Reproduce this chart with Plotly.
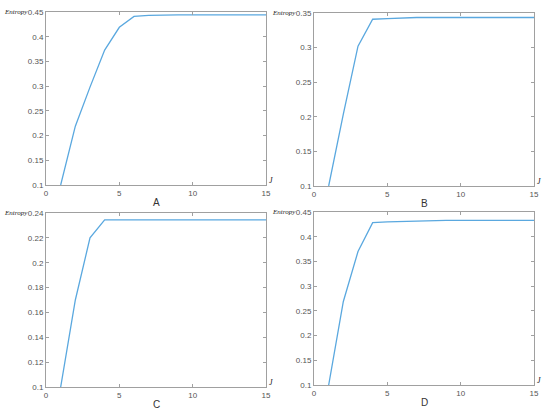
import plotly.graph_objects as go

J = list(range(1, 16))
entropy_A = [0.100, 0.219, 0.298, 0.373, 0.419, 0.441, 0.443, 0.444, 0.444, 0.444, 0.444, 0.444, 0.444, 0.444, 0.444]
entropy_B = [0.100, 0.204, 0.302, 0.341, 0.342, 0.343, 0.3435, 0.3435, 0.3435, 0.3435, 0.3435, 0.3435, 0.3435, 0.3435, 0.3435]
entropy_C = [0.100, 0.170, 0.220, 0.2344, 0.2345, 0.2345, 0.2345, 0.2345, 0.2345, 0.2345, 0.2345, 0.2345, 0.2345, 0.2345, 0.2345]
entropy_D = [0.100, 0.269, 0.370, 0.4285, 0.430, 0.431, 0.432, 0.433, 0.433, 0.433, 0.433, 0.433, 0.433, 0.433, 0.433]

panels = [
    ("A", entropy_A, [0.1, 0.45], 0.05),
    ("B", entropy_B, [0.1, 0.35], 0.05),
    ("C", entropy_C, [0.1, 0.24], 0.02),
    ("D", entropy_D, [0.1, 0.45], 0.05),
]

W, H = 550, 413
# pixel boxes: (left, right, top, bottom)
boxes = [
    (46, 266, 12, 185),
    (314, 534, 13, 186),
    (46, 266, 213, 387),
    (314, 534, 212, 385),
]

fig = go.Figure()
layout = dict(
    template="none",
    width=W, height=H, margin=dict(l=0, r=0, t=0, b=0, autoexpand=False),
    paper_bgcolor="white", plot_bgcolor="white", showlegend=False,
)
annotations = []
axis_color = "#a0a0a0"
tick_font = dict(family="Liberation Sans, Arial", size=8, color="#555555")

for i, (lab, vals, yr, dt) in enumerate(panels):
    n = "" if i == 0 else str(i + 1)
    l, r, t, b = boxes[i]
    fig.add_trace(go.Scatter(x=J, y=vals, mode="lines",
                             line=dict(color="#5aa8df", width=1.3),
                             xaxis="x" + n, yaxis="y" + n))
    layout["xaxis" + n] = dict(
        domain=[l / W, r / W], range=[0, 15], dtick=5, tick0=0,
        anchor="y" + n, showline=True, linecolor=axis_color, linewidth=1,
        mirror="ticks", ticks="inside", ticklen=3, tickcolor=axis_color,
        showgrid=False, zeroline=False, tickfont=tick_font, automargin=False,
    )
    layout["yaxis" + n] = dict(
        domain=[1 - b / H, 1 - t / H], range=yr, dtick=dt, tick0=0.1,
        anchor="x" + n, showline=True, linecolor=axis_color, linewidth=1,
        mirror="ticks", ticks="inside", ticklen=3, tickcolor=axis_color,
        showgrid=False, zeroline=False, tickfont=tick_font, automargin=False,
    )
    # panel letter
    annotations.append(dict(text=lab, x=(l + r) / 2 / W, y=1 - (b + 17) / H,
                            xref="paper", yref="paper", showarrow=False,
                            font=dict(family="Liberation Sans, Arial", size=10, color="#333333"),
                            xanchor="center", yanchor="middle"))
    # y label "Entropy"
    annotations.append(dict(text="<i>Entropy</i>", x=(l - 16) / W, y=1 - t / H,
                            xref="paper", yref="paper", showarrow=False,
                            font=dict(family="Liberation Serif, Times New Roman", size=7, color="#222222"),
                            xanchor="right", yanchor="middle"))
    # x label "J"
    annotations.append(dict(text="<i>J</i>", x=(r + 5) / W, y=1 - (b - 5) / H,
                            xref="paper", yref="paper", showarrow=False,
                            font=dict(family="Liberation Serif, Times New Roman", size=8, color="#222222"),
                            xanchor="center", yanchor="middle"))

layout["annotations"] = annotations
fig.update_layout(**layout)
fig.write_html("out.html",
               config={"displayModeBar": False},
               post_script="document.body.style.margin='0';document.body.style.padding='0';")
